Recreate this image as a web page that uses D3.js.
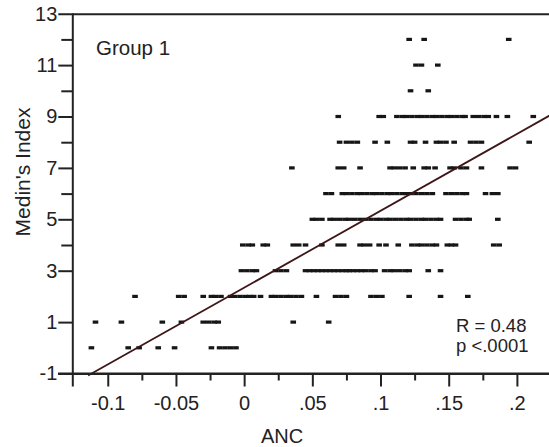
<!DOCTYPE html>
<html lang="en">
<head>
  <meta charset="UTF-8">
  <title>Medin's Index vs ANC</title>
  <style>
    body { margin: 0; background: #fff; }
    svg { display: block; font-family: "Liberation Sans", Arial, sans-serif; }
    .dash { fill: #161616; }
  </style>
</head>
<body>
  <svg id="chart" width="549" height="447"></svg>
  <script src="https://d3js.org/d3.v7.min.js"></script>
  <script>
    // ANC values of each point, grouped by Medin's Index (0..12)
    const medinLevels = [0, 1, 2, 3, 4, 5, 6, 7, 8, 9, 10, 11, 12];
    const ancAt0 = [-0.112, -0.085, -0.077, -0.063, -0.051, -0.024, -0.018, -0.014, -0.010, -0.006];
    const ancAt1 = [-0.109, -0.090, -0.060, -0.046, -0.030, -0.026, -0.022, -0.019, 0.036, 0.062];
    const ancAt2 = [-0.080, -0.048, -0.044, -0.030, -0.024, -0.021, -0.017, -0.010, -0.007, -0.003, 0.001, 0.004, 0.007,
                    0.012, 0.020, 0.023, 0.027, 0.031, 0.034, 0.038, 0.042, 0.053, 0.067, 0.071, 0.075, 0.093, 0.097,
                    0.101, 0.121, 0.144, 0.164];
    const ancAt3 = [-0.002, 0.002, 0.006, 0.009, 0.023, 0.027, 0.031, 0.045, 0.048, 0.051, 0.054, 0.057, 0.060, 0.063,
                    0.066, 0.069, 0.072, 0.075, 0.077, 0.080, 0.083, 0.086, 0.089, 0.093, 0.096, 0.103, 0.107, 0.110,
                    0.114, 0.118, 0.121, 0.135, 0.144];
    const ancAt4 = [-0.001, 0.003, 0.006, 0.014, 0.017, 0.036, 0.040, 0.045, 0.057, 0.069, 0.073, 0.085, 0.088, 0.092,
                    0.099, 0.104, 0.113, 0.123, 0.127, 0.130, 0.134, 0.138, 0.141, 0.149, 0.152, 0.155, 0.183, 0.187];
    const ancAt5 = [0.050, 0.053, 0.057, 0.063, 0.066, 0.070, 0.074, 0.077, 0.081, 0.085, 0.089, 0.093, 0.097, 0.100,
                    0.104, 0.107, 0.111, 0.115, 0.119, 0.122, 0.126, 0.130, 0.133, 0.137, 0.141, 0.144, 0.155, 0.159,
                    0.163, 0.165, 0.186];
    const ancAt6 = [0.060, 0.064, 0.072, 0.075, 0.079, 0.083, 0.086, 0.090, 0.094, 0.097, 0.101, 0.105, 0.108, 0.112,
                    0.116, 0.119, 0.122, 0.126, 0.130, 0.134, 0.138, 0.148, 0.152, 0.156, 0.160, 0.163, 0.177, 0.182,
                    0.186];
    const ancAt7 = [0.035, 0.069, 0.073, 0.085, 0.107, 0.110, 0.114, 0.118, 0.124, 0.132, 0.135, 0.140, 0.151, 0.154,
                    0.159, 0.163, 0.174, 0.195, 0.199];
    const ancAt8 = [0.070, 0.075, 0.079, 0.083, 0.096, 0.105, 0.122, 0.125, 0.133, 0.141, 0.144, 0.148, 0.154, 0.166,
                    0.170, 0.174, 0.209];
    const ancAt9 = [0.069, 0.099, 0.102, 0.112, 0.116, 0.119, 0.123, 0.127, 0.130, 0.134, 0.138, 0.141, 0.145, 0.149,
                    0.152, 0.156, 0.160, 0.162, 0.168, 0.172, 0.176, 0.179, 0.185, 0.193, 0.212];
    const ancAt10 = [0.122, 0.135];
    const ancAt11 = [0.126, 0.130, 0.142];
    const ancAt12 = [0.121, 0.132, 0.194];
    const ancByLevel = [ancAt0, ancAt1, ancAt2, ancAt3, ancAt4, ancAt5, ancAt6, ancAt7, ancAt8, ancAt9, ancAt10, ancAt11, ancAt12];

    // fitted line
    const fitIntercept = 2.34;
    const fitSlope = 29.9;
    const fitRange = [-0.1144, 0.225];

    const yMajorTicks = [-1, 1, 3, 5, 7, 9, 11, 13];
    const yMinorTicks = [4, 6, 8, 10, 12];
    const xMajorTicks = [-0.1, -0.05, 0, 0.05, 0.1, 0.15, 0.2];
    const xTickLabels = ["-0.1", "-0.05", "0", ".05", ".1", ".15", ".2"];
    const xMinorTicks = [-0.075, -0.025, 0.025, 0.075, 0.125, 0.175];

    let points = [];
    medinLevels.forEach((lvl, i) => ancByLevel[i].forEach(a => points.push({ anc: a, medin: lvl })));

    let svg = d3.select("#chart");
    let x = d3.scaleLinear().domain([-0.126, 0.225]).range([72.3, 551]);
    let y = d3.scaleLinear().domain([-1, 13]).range([373.5, 13.7]);

    // points as little dashes
    svg.selectAll(".dash")
      .data(points)
      .enter()
      .append("rect")
      .attr("class", "dash")
      .attr("x", d => x(d.anc) - 2.8)
      .attr("y", d => y(d.medin) - 1.6)
      .attr("width", 5.6)
      .attr("height", 3.2);

    // regression line
    svg.append("line")
      .attr("x1", x(fitRange[0])).attr("y1", y(fitIntercept + fitSlope * fitRange[0]))
      .attr("x2", x(fitRange[1])).attr("y2", y(fitIntercept + fitSlope * fitRange[1]))
      .attr("stroke", "#3d1618")
      .attr("stroke-width", 1.8);

    // y axis
    let yAxis = svg.append("g").attr("transform", `translate(${x.range()[0]},0)`);
    yAxis.call(d3.axisLeft(y).tickValues(yMajorTicks).tickSize(14).tickPadding(1).tickFormat(d => String(d)));
    yAxis.selectAll(".tick").filter(d => d === 13).select("line").attr("x2", 480);
    let yMinor = svg.append("g").attr("transform", `translate(${x.range()[0]},0)`);
    yMinor.call(d3.axisLeft(y).tickValues(yMinorTicks).tickSize(11).tickFormat(""));
    yMinor.select(".domain").remove();

    // x axis
    let xAxis = svg.append("g").attr("transform", `translate(0,${y.range()[0]})`);
    xAxis.call(d3.axisBottom(x).tickValues(xMajorTicks).tickSize(13).tickPadding(9)
      .tickFormat((d, i) => xTickLabels[i]));
    let xMinor = svg.append("g").attr("transform", `translate(0,${y.range()[0]})`);
    xMinor.call(d3.axisBottom(x).tickValues(xMinorTicks).tickSize(7).tickFormat(""));
    xMinor.select(".domain").remove();
    // bottom line reaches out to the -1 tick
    svg.append("line")
      .attr("x1", 58).attr("x2", 549)
      .attr("y1", y(-1)).attr("y2", y(-1))
      .attr("stroke", "#222").attr("stroke-width", 2);

    svg.selectAll(".domain").attr("stroke", "#222").attr("stroke-width", 2);
    svg.selectAll(".tick line").attr("stroke", "#222").attr("stroke-width", 2);
    svg.selectAll(".tick text").attr("fill", "#222").style("font-size", "20px")
      .style("font-family", "'Liberation Sans', Arial, sans-serif");

    // titles and notes
    svg.append("text").attr("x", 282).attr("y", 443)
      .attr("text-anchor", "middle").attr("fill", "#222").style("font-size", "20px").text("ANC");
    svg.append("text").attr("transform", "translate(30,172) rotate(-90)")
      .attr("text-anchor", "middle").attr("fill", "#222").style("font-size", "21px").text("Medin's Index");
    svg.append("text").attr("x", 96).attr("y", 55).attr("fill", "#222").style("font-size", "20.5px").text("Group 1");
    svg.append("text").attr("x", 456).attr("y", 331.5).attr("fill", "#222").style("font-size", "18.5px").text("R = 0.48");
    svg.append("text").attr("x", 456).attr("y", 352).attr("fill", "#222").style("font-size", "18.5px").text("p <.0001");
  </script>
</body>
</html>
